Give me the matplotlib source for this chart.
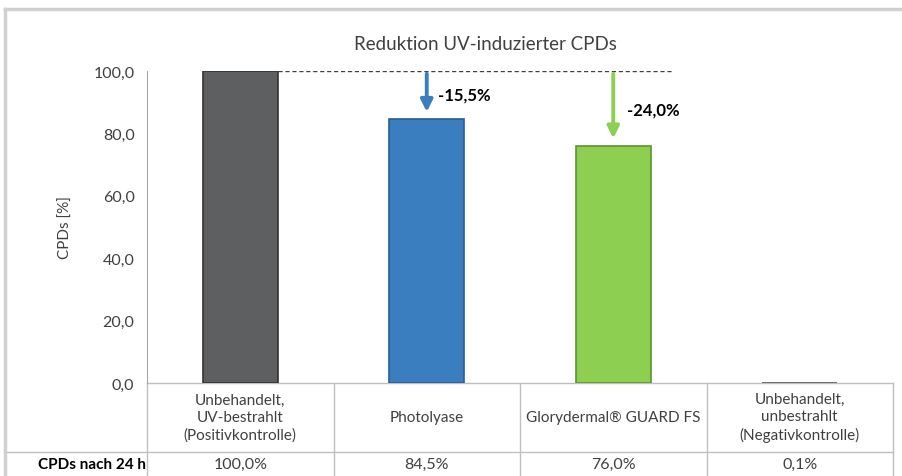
import matplotlib.pyplot as plt
from matplotlib.lines import Line2D

plt.rcParams['font.family'] = ['Lato', 'DejaVu Sans']

# Daten
categories = ['Unbehandelt,\nUV-bestrahlt\n(Positivkontrolle)', 'Photolyase',
              'Glorydermal\u00ae GUARD FS', 'Unbehandelt,\nunbestrahlt\n(Negativkontrolle)']
values = [100.0, 84.5, 76.0, 0.1]
value_labels = ['100,0%', '84,5%', '76,0%', '0,1%']
reductions = ['-15,5%', '-24,0%']
yticks = [0, 20, 40, 60, 80, 100]

bar_colors = ['#5e5f61', '#3b7ec0', '#8dcf50', '#7a7a7a']
edge_colors = ['#333333', '#2a5e93', '#5b9530', '#555555']
arrow_colors = ['#3b7ec0', '#8dcf50']
txt = '#404040'
grid_c = '#bfbfbf'

fig = plt.figure(figsize=(9.02, 4.77), dpi=100)
ax = fig.add_axes([147/902, 1-384/477, (893-147)/902, (384-72)/477])

x = list(range(len(values)))
ax.bar(x, values, width=0.4, color=bar_colors, edgecolor=edge_colors, linewidth=1.2, zorder=3)
ax.set_xlim(-0.5, 3.5)
ax.set_ylim(0, 100)
ax.set_yticks(yticks)
ax.set_yticklabels([f'{v:.1f}'.replace('.', ',') for v in yticks], fontsize=11.5, color=txt)
ax.tick_params(axis='y', length=0, pad=9)
ax.set_xticks([])
for s in ['top', 'right', 'bottom']:
    ax.spines[s].set_visible(False)
ax.spines['left'].set_color('#a6a6a6')
ax.set_ylabel('CPDs [%]', fontsize=11, color=txt, labelpad=15)

fig.text(485/902, 1-44/477, 'Reduktion UV-induzierter CPDs', ha='center', va='center',
         fontsize=13.5, color=txt)

# Referenzlinie und Pfeile
ax.plot([0.2, 2.32], [values[0], values[0]], ls=(0, (3, 2)), color='#404040', lw=1, zorder=2)
for i, c in enumerate(arrow_colors, start=1):
    ax.annotate('', xy=(i, values[i] + 1.5), xytext=(i, values[0]),
                arrowprops=dict(arrowstyle='-|>,head_length=0.7,head_width=0.35', color=c, lw=2.8),
                zorder=4)
ax.text(1 + 0.06, 92.6, reductions[0], fontsize=12, fontweight='bold', color='black', va='center')
ax.text(2 + 0.075, 87.8, reductions[1], fontsize=12, fontweight='bold', color='black', va='center')

# Tabelle unter dem Diagramm
tr = ax.get_xaxis_transform()
h = 312.0
def ya(py):
    return -(py - 384) / h

ax.add_line(Line2D([-0.5, 3.5], [0, 0], transform=tr, color=grid_c, lw=1, clip_on=False))
ax.add_line(Line2D([-0.5 - 142/186.5, 3.5], [ya(453), ya(453)], transform=tr, color=grid_c, lw=1, clip_on=False))
for xb in [-0.5, 0.5, 1.5, 2.5, 3.5]:
    ax.add_line(Line2D([xb, xb], [0, ya(480)], transform=tr, color=grid_c, lw=1, clip_on=False))
for i, (cat, vl) in enumerate(zip(categories, value_labels)):
    ax.text(i, ya(418), cat, transform=tr, ha='center', va='center', fontsize=11,
            color=txt, linespacing=1.3, clip_on=False)
    ax.text(i, ya(465), vl, transform=tr, ha='center', va='center', fontsize=11.5,
            color=txt, clip_on=False)
fig.text(146/902, 1-465/477, 'CPDs nach 24 h', ha='right', va='center', fontsize=11,
         fontweight='bold', color='black')

# Rahmen
fig.add_artist(Line2D([5/902, 5/902], [0, 1-10/477], color='#d0d0d0', lw=2.5))
fig.add_artist(Line2D([5/902, 1], [1-10/477, 1-10/477], color='#d0d0d0', lw=2.5))

fig.savefig('out.png', dpi=100)
